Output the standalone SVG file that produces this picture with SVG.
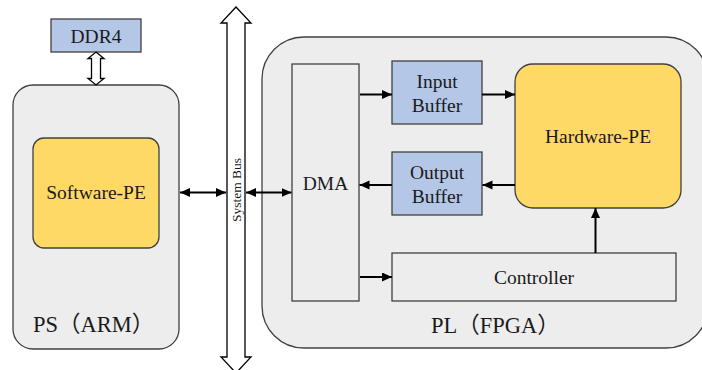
<svg xmlns="http://www.w3.org/2000/svg" width="702" height="370" viewBox="0 0 702 370" font-family="'Liberation Serif', 'DejaVu Serif', serif">
  <style>
    text { font-family: "Liberation Serif", "DejaVu Serif", serif; fill: #1a1a1a; }
    .cjk { font-family: "Noto Sans CJK SC", "Noto Sans CJK JP", sans-serif; }
    .box { stroke: #404040; stroke-width: 1.3; }
    .grey { fill: #ededed; }
    .blue { fill: #b4c7e7; }
    .gold { fill: #ffd966; }
    .wire { stroke: #000; stroke-width: 2; fill: none; }
    .hollow { fill: #fff; stroke: #000; stroke-width: 1.3; stroke-linejoin: miter; }
  </style>
  <defs>
    <marker id="ah" markerUnits="userSpaceOnUse" markerWidth="11" markerHeight="10" refX="10" refY="4.5" orient="auto-start-reverse">
      <path d="M0,0 L10,4.5 L0,9 Z" fill="#000"/>
    </marker>
  </defs>
  <rect width="702" height="370" fill="#fff"/>

  <!-- processing system -->
  <g id="ps">
    <rect class="box grey" x="13" y="85" width="166" height="264" rx="20"/>
    <text x="33" y="332" font-size="22.5">PS<tspan class="cjk">（</tspan>ARM<tspan class="cjk">）</tspan></text>
  </g>
  <g id="software-pe">
    <rect class="box gold" x="33" y="138" width="126" height="110" rx="11"/>
    <text x="96" y="199" font-size="19.5" text-anchor="middle">Software-PE</text>
  </g>
  <g id="ddr4">
    <rect class="box blue" x="51" y="19" width="90" height="33"/>
    <text x="96" y="42.5" font-size="19.5" text-anchor="middle">DDR4</text>
  </g>

  <!-- programmable logic -->
  <g id="pl">
    <rect class="box grey" x="262" y="37" width="446" height="311" rx="42"/>
    <text x="431" y="333" font-size="22.5">PL<tspan class="cjk">（</tspan>FPGA<tspan class="cjk">）</tspan></text>
  </g>
  <g id="dma">
    <rect class="box grey" x="292" y="64" width="67" height="237"/>
    <text x="325.5" y="190" font-size="19.5" text-anchor="middle">DMA</text>
  </g>
  <g id="input-buffer">
    <rect class="box blue" x="392" y="61" width="90" height="63"/>
    <text x="437" y="88" font-size="19.5" text-anchor="middle">Input</text>
    <text x="437" y="111.5" font-size="19.5" text-anchor="middle">Buffer</text>
  </g>
  <g id="output-buffer">
    <rect class="box blue" x="392" y="152" width="90" height="63"/>
    <text x="437" y="178.5" font-size="19.5" text-anchor="middle">Output</text>
    <text x="437" y="202.5" font-size="19.5" text-anchor="middle">Buffer</text>
  </g>
  <g id="hardware-pe">
    <rect class="box gold" x="515" y="64" width="166" height="144" rx="18"/>
    <text x="598" y="143" font-size="19.5" text-anchor="middle">Hardware-PE</text>
  </g>
  <g id="controller">
    <rect class="box grey" x="392" y="253" width="284" height="48"/>
    <text x="534" y="284" font-size="19.5" text-anchor="middle">Controller</text>
  </g>

  <!-- system bus -->
  <g id="system-bus">
    <path class="hollow" d="M236,7 L251,23 L245,23 L245,357 L251,357 L236,373 L221,357 L227,357 L227,23 L221,23 Z"/>
    <text x="0" y="0" font-size="13.5" text-anchor="middle" transform="translate(240.5,190) rotate(-90)">System Bus</text>
  </g>

  <g id="connectors">
    <!-- DDR4 link -->
    <path class="hollow" d="M96,52 L104,58.5 L100.5,58.5 L100.5,78.5 L104,78.5 L96,85 L88,78.5 L91.5,78.5 L91.5,58.5 L88,58.5 Z"/>
    <line class="wire" x1="180" y1="192.5" x2="226" y2="192.5" marker-start="url(#ah)" marker-end="url(#ah)"/>
    <line class="wire" x1="246" y1="192.5" x2="291.5" y2="192.5" marker-start="url(#ah)" marker-end="url(#ah)"/>
    <line class="wire" x1="360" y1="94.5" x2="392" y2="94.5" marker-end="url(#ah)"/>
    <line class="wire" x1="482" y1="94.5" x2="515" y2="94.5" marker-end="url(#ah)"/>
    <line class="wire" x1="515" y1="185" x2="482.5" y2="185" marker-end="url(#ah)"/>
    <line class="wire" x1="392" y1="185" x2="359.5" y2="185" marker-end="url(#ah)"/>
    <line class="wire" x1="360" y1="277" x2="392" y2="277" marker-end="url(#ah)"/>
    <line class="wire" x1="595.5" y1="253" x2="595.5" y2="208" marker-end="url(#ah)"/>
  </g>
</svg>
